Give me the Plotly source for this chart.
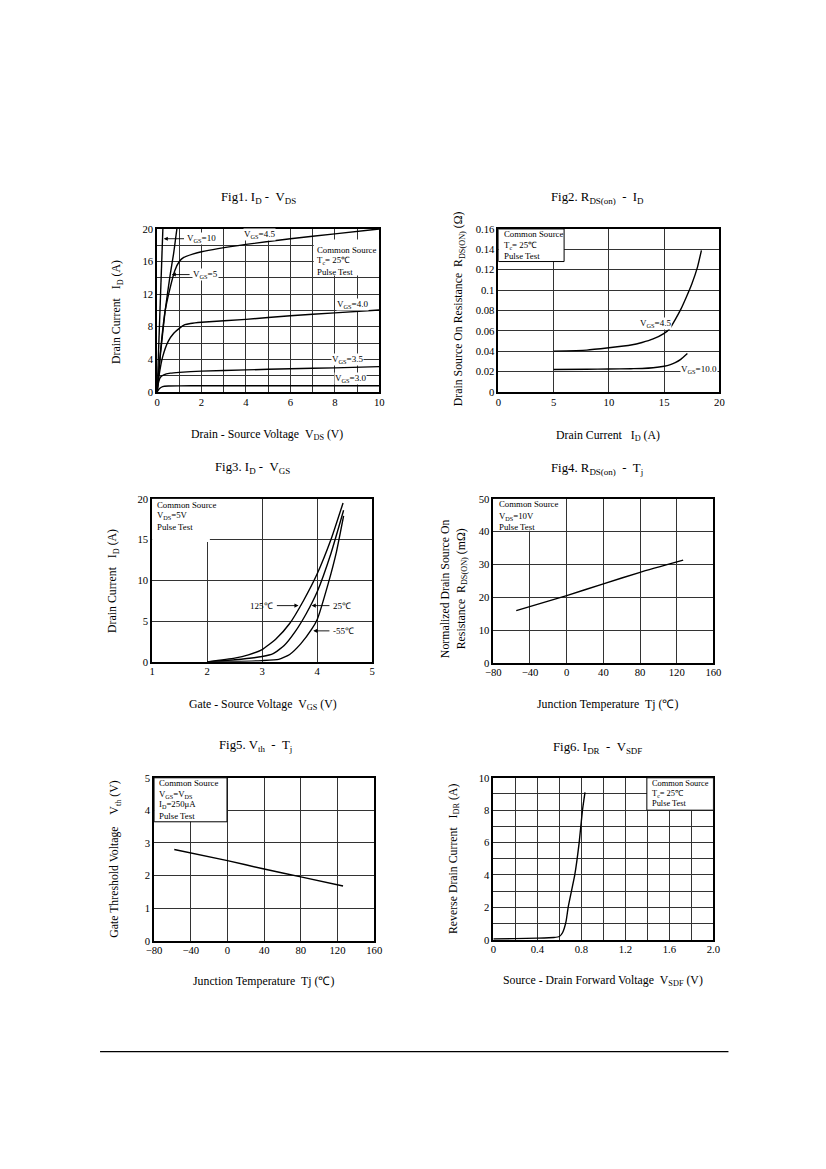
import plotly.graph_objects as go

# ---- Fig1: ID - VDS
f1_vds_10 = [0, 0.26]
f1_id_10 = [0, 20]
f1_vds_5 = [0, 0.15, 0.36, 0.59, 0.74, 0.89]
f1_id_5 = [0, 4.6, 9.9, 14.4, 16.9, 20]
f1_vds_45 = [0, 0.14, 0.36, 0.59, 0.8, 1.0, 1.2, 1.6, 2, 4, 6, 8, 10]
f1_id_45 = [0, 4.6, 9.9, 12.8, 14.9, 16.0, 16.5, 16.9, 17.2, 18.1, 18.8, 19.4, 20.0]
f1_vds_40 = [0, 0.1, 0.25, 0.5, 0.75, 1.0, 1.25, 1.5, 2, 4, 6, 8, 10]
f1_id_40 = [0, 2.2, 4.3, 6.2, 7.2, 7.8, 8.25, 8.4, 8.55, 8.9, 9.35, 9.7, 10.05]
f1_vds_35 = [0, 0.05, 0.15, 0.3, 0.6, 1.0, 2, 4, 6, 8, 10]
f1_id_35 = [0, 1.0, 1.8, 2.1, 2.3, 2.4, 2.55, 2.7, 2.85, 2.95, 3.1]
f1_vds_30 = [0, 0.1, 0.25, 0.5, 1, 2, 10]
f1_id_30 = [0, 0.4, 0.65, 0.72, 0.74, 0.75, 0.75]

# ---- Fig2: RDS(on) - ID
f2_id_45 = [5, 8, 10, 12, 13, 14, 15, 15.5, 16, 16.5, 17, 17.5, 18, 18.37]
f2_r_45 = [0.040, 0.041, 0.0433, 0.046, 0.0485, 0.052, 0.0575, 0.062, 0.071, 0.081, 0.093, 0.106, 0.122, 0.139]
f2_id_10 = [5, 8, 10, 12, 13, 14, 15, 15.5, 16, 16.5, 17.1]
f2_r_10 = [0.022, 0.0222, 0.0225, 0.0228, 0.023, 0.0237, 0.0252, 0.0265, 0.0288, 0.032, 0.0377]

# ---- Fig3: ID - VGS
f3_vgs_125 = [2.0, 2.5, 2.75, 3.0, 3.25, 3.5, 3.75, 4.0, 4.25, 4.47]
f3_id_125 = [0, 0.45, 0.85, 1.5, 2.8, 4.7, 7.5, 10.8, 15.0, 19.5]
f3_vgs_25 = [2.0, 2.5, 3.0, 3.2, 3.4, 3.6, 3.8, 4.0, 4.25, 4.48]
f3_id_25 = [0, 0.25, 0.65, 1.0, 2.0, 3.7, 5.9, 8.6, 13.3, 18.6]
f3_vgs_m55 = [2.0, 2.5, 3.0, 3.3, 3.5, 3.7, 3.9, 4.0, 4.2, 4.35, 4.48]
f3_id_m55 = [0, 0.05, 0.15, 0.3, 0.9, 2.2, 4.0, 5.2, 9.6, 13.5, 17.9]

# ---- Fig4: RDS(on) - Tj
f4_tj = [-55, 0, 40, 80, 127]
f4_r = [15.9, 20.5, 24.1, 27.6, 31.3]

# ---- Fig5: Vth - Tj
f5_tj = [-58, 0, 40, 80, 126]
f5_vth = [2.80, 2.46, 2.20, 1.96, 1.68]

# ---- Fig6: IDR - VSDF
f6_vsd = [0, 0.2, 0.4, 0.55, 0.6, 0.63, 0.66, 0.68, 0.71, 0.74, 0.78, 0.81, 0.833]
f6_idr = [0.05, 0.07, 0.1, 0.14, 0.2, 0.45, 1.1, 2.0, 3.0, 4.0, 6.0, 8.0, 9.1]

FONT = "Liberation Serif, Times New Roman, serif"
W, H = 826, 1169
NB = "\u00a0"
# measured: the photographed page shows figure pixel p at about 0.98*p+16 (x)
# and 0.99*p+13 (y), so page positions are mapped back through that
SX, CX, SY, CY = 0.98, 16, 0.99, 13


def xp(p):
    return ((p - CX) / SX) / W


def yp(p):
    return 1 - ((p - CY) / SY) / H


# plot areas in page pixels: left, right, top, bottom
boxes = [(157, 379, 228, 391), (498, 719, 228, 391), (152, 372, 498, 661),
         (493, 713, 498, 662), (154, 374, 777, 940), (493, 713, 777, 939)]

fig = go.Figure()


def ref(n):
    return ("x", "y") if n == 1 else ("x%d" % n, "y%d" % n)


def curve(n, x, y):
    xr, yr = ref(n)
    fig.add_trace(go.Scatter(x=x, y=y, mode="lines", xaxis=xr, yaxis=yr,
                             line=dict(color="black", width=1.4, shape="spline", smoothing=0.5),
                             showlegend=False, hoverinfo="skip"))


def axes(n, xr, yr, xt, yt, xminor=None, yminor=None, xtext=None):
    sfx = "" if n == 1 else str(n)
    l, r, t, b = boxes[n - 1]
    common = dict(showline=True, mirror=True, linecolor="black", linewidth=1.6,
                  showgrid=True, gridcolor="#333333", gridwidth=0.9, zeroline=False,
                  ticks="", tickfont=dict(family=FONT, size=10.7, color="black"),
                  fixedrange=True, tickmode="array")
    xa = dict(common, domain=[xp(l), xp(r)], range=xr, anchor="y" + sfx, tickvals=xt,
              ticklabelstandoff=-1)
    if xtext:
        xa["ticktext"] = xtext
    if xminor:
        xa["minor"] = dict(tickmode="linear", tick0=xr[0], dtick=xminor, showgrid=True,
                           gridcolor="#333333", gridwidth=0.9, ticks="")
    ya = dict(common, domain=[yp(b), yp(t)], range=yr, anchor="x" + sfx, tickvals=yt,
              ticklabelstandoff=0)
    if yminor:
        ya["minor"] = dict(tickmode="linear", tick0=yr[0], dtick=yminor, showgrid=True,
                           gridcolor="#333333", gridwidth=0.9, ticks="")
    fig.update_layout({"xaxis" + sfx: xa, "yaxis" + sfx: ya})


axes(1, [0, 10], [0, 20], [0, 2, 4, 6, 8, 10], [0, 4, 8, 12, 16, 20], 1, 2)
axes(2, [0, 20], [0, 0.16], [0, 5, 10, 15, 20], [0, 0.02, 0.04, 0.06, 0.08, 0.1, 0.12, 0.14, 0.16])
axes(3, [1, 5], [0, 20], [1, 2, 3, 4, 5], [0, 5, 10, 15, 20])
axes(4, [-80, 160], [0, 50], [-80, -40, 0, 40, 80, 120, 160], [0, 10, 20, 30, 40, 50])
axes(5, [-80, 160], [0, 5], [-80, -40, 0, 40, 80, 120, 160], [0, 1, 2, 3, 4, 5])
axes(6, [0, 2.0], [0, 10], [0, 0.4, 0.8, 1.2, 1.6, 2.0], [0, 2, 4, 6, 8, 10], 0.2, 1,
     xtext=["0", "0.4", "0.8", "1.2", "1.6", "2.0"])

curve(1, f1_vds_10, f1_id_10)
curve(1, f1_vds_5, f1_id_5)
curve(1, f1_vds_45, f1_id_45)
curve(1, f1_vds_40, f1_id_40)
curve(1, f1_vds_35, f1_id_35)
curve(1, f1_vds_30, f1_id_30)
curve(2, f2_id_45, f2_r_45)
curve(2, f2_id_10, f2_r_10)
curve(3, f3_vgs_125, f3_id_125)
curve(3, f3_vgs_25, f3_id_25)
curve(3, f3_vgs_m55, f3_id_m55)
curve(4, f4_tj, f4_r)
curve(5, f5_tj, f5_vth)
curve(6, f6_vsd, f6_idr)

shapes = []
ann = []


def wbox(n, x0, x1, y0, y1, border=True):
    xr, yr = ref(n)
    shapes.append(dict(type="rect", xref=xr, yref=yr, x0=x0, x1=x1, y0=y0, y1=y1,
                       fillcolor="white", layer="above",
                       line=dict(color="black", width=1 if border else 0)))


def note(n, x, y, text, size=9, xanchor="left", yanchor="middle", bg=None):
    xr, yr = ref(n)
    a = dict(xref=xr, yref=yr, x=x, y=y, text=text, showarrow=False, xanchor=xanchor,
             yanchor=yanchor, align="left", font=dict(family=FONT, size=size, color="black"),
             borderpad=0)
    if bg:
        a["bgcolor"] = bg
    ann.append(a)


def arrow(n, x, y, ax):
    xr, yr = ref(n)
    ann.append(dict(xref=xr, yref=yr, x=x, y=y, ax=ax, ay=y, axref=xr, ayref=yr, text="",
                    showarrow=True, arrowhead=2, arrowsize=0.9, arrowwidth=0.9,
                    arrowcolor="black", standoff=0, startstandoff=0))


def page(x, y, text, size=12.8, angle=0, xanchor="center"):
    ann.append(dict(xref="paper", yref="paper", x=xp(x), y=yp(y), text=text, showarrow=False,
                    xanchor=xanchor, yanchor="middle", textangle=angle, align="center",
                    font=dict(family=FONT, size=size, color="black")))


def lines(x, ys, texts, size=8.8):
    # one annotation per text line, so the line spacing follows the page
    for y, t in zip(ys, texts):
        page(x, y, t, size, xanchor="left")


TC = ["Common Source", "T<sub>c</sub>= 25℃", "Pulse Test"]

# boxes with test conditions
wbox(1, 7.05, 10, 14.3, 18.7, border=False)
lines(315, [249.5, 260, 270.7], TC)
wbox(2, 0, 5.95, 0.128, 0.16)
lines(501.7, [233.5, 244.5, 255], TC)
wbox(3, 1, 2.05, 14.7, 20, border=False)
wbox(3, 1, 2.97, 15.2, 20, border=False)
lines(154.5, [504, 515, 525.7], ["Common Source", "V<sub>DS</sub>=5V", "Pulse Test"])
wbox(4, -80, -1, 40.3, 50, border=False)
lines(496.7, [503.5, 515.5, 526.5], ["Common Source", "V<sub>DS</sub>=10V", "Pulse Test"])
wbox(5, -80, -0.5, 3.65, 5)
lines(156.7, [782.3, 793.3, 803.5, 815],
      ["Common Source", "V<sub>GS</sub>=V<sub>DS</sub>", "I<sub>D</sub>=250μA", "Pulse Test"])
wbox(6, 1.395, 2.0, 8.0, 10)
lines(649.8, [783, 793.3, 803], TC, 8.4)

# curve labels
note(1, 1.3, 18.8, "V<sub>GS</sub>=10", bg="white")
arrow(1, 0.3, 18.8, 1.28)
note(1, 1.55, 14.4, "V<sub>GS</sub>=5", bg="white")
arrow(1, 0.66, 14.4, 1.53)
note(1, 3.85, 19.35, "V<sub>GS</sub>=4.5", bg="white")
note(1, 8.05, 10.75, "V<sub>GS</sub>=4.0", bg="white")
note(1, 7.85, 3.95, "V<sub>GS</sub>=3.5", bg="white")
note(1, 7.95, 1.7, "V<sub>GS</sub>=3.0", bg="white")
note(2, 12.7, 0.0675, "V<sub>GS</sub>=4.5", bg="white")
note(2, 16.4, 0.022, "V<sub>GS</sub>=10.0", bg="white")
note(3, 3.22, 6.9, "125℃", xanchor="right")
arrow(3, 3.66, 6.9, 3.24)
note(3, 4.27, 6.9, "25℃")
arrow(3, 3.9, 6.9, 4.25)
note(3, 4.27, 3.8, "-55℃")
arrow(3, 3.93, 3.8, 4.25)

# figure titles
page(258, 197, "Fig1. I<sub>D</sub> -" + NB + NB + "V<sub>DS</sub>")
page(597, 197, "Fig2. R<sub>DS(on)</sub>" + NB + " -" + NB + NB + "I<sub>D</sub>")
page(252, 467, "Fig3. I<sub>D</sub> -" + NB + NB + "V<sub>GS</sub>")
page(597, 468, "Fig4. R<sub>DS(on)</sub>" + NB + " -" + NB + NB + "T<sub>j</sub>")
page(255, 745, "Fig5. V<sub>th</sub>" + NB + " -" + NB + NB + "T<sub>j</sub>")
page(597, 747, "Fig6. I<sub>DR</sub>" + NB + " -" + NB + NB + "V<sub>SDF</sub>")

# x axis titles
AX = 11.8
page(267, 434, "Drain - Source Voltage" + NB + NB + "V<sub>DS</sub> (V)", AX)
page(608, 435, "Drain Current" + NB + NB + NB + "I<sub>D</sub> (A)", AX)
page(263, 704, "Gate - Source Voltage" + NB + NB + "V<sub>GS</sub> (V)", AX)
page(607, 703, "Junction Temperature" + NB + NB + "Tj (℃)", AX)
page(263, 980, "Junction Temperature" + NB + NB + "Tj (℃)", AX)
page(603, 980, "Source - Drain Forward Voltage" + NB + NB + "V<sub>SDF</sub> (V)", AX)

# y axis titles
page(117, 311, "Drain Current" + NB + NB + NB + "I<sub>D</sub> (A)", AX, -90)
page(459, 308, "Drain Source On Resistance" + NB + NB + "R<sub>DS(ON)</sub> (Ω)", AX, -90)
page(113, 580, "Drain Current" + NB + NB + NB + "I<sub>D</sub> (A)", AX, -90)
page(454, 588, "Normalized Drain Source On<br>Resistance" + NB + NB + "R<sub>DS(ON)</sub> (mΩ)", AX, -90)
page(115, 858, "Gate Threshold Voltage" + NB + NB + NB + NB + "V<sub>th</sub> (V)", AX, -90)
page(453, 858, "Reverse Drain Current" + NB + NB + NB + "I<sub>DR</sub> (A)", AX, -90)

# page rule at the bottom
shapes.append(dict(type="line", xref="paper", yref="paper", x0=xp(100), x1=xp(728),
                   y0=yp(1051), y1=yp(1051), line=dict(color="black", width=1.3)))

fig.update_layout(width=W, height=H, margin=dict(l=0, r=0, t=0, b=0),
                  paper_bgcolor="white", plot_bgcolor="white", showlegend=False,
                  font=dict(family=FONT, color="black"), shapes=shapes, annotations=ann)

fig.write_html("out.html")
